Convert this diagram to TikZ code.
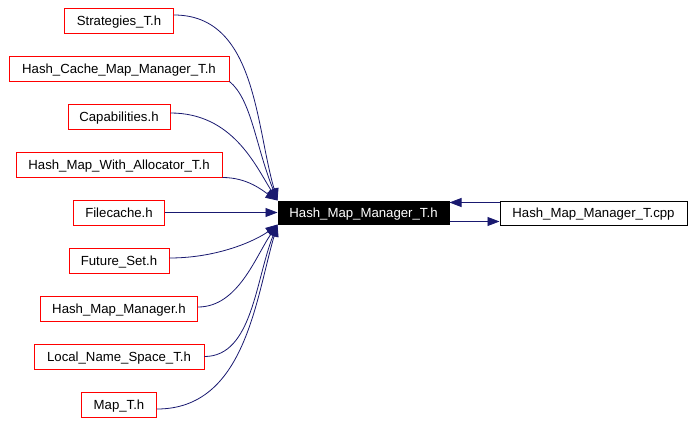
\documentclass[tikz,border=0pt]{standalone}
\usepackage{fontspec}
\setmainfont{Liberation Sans}
\usetikzlibrary{arrows.meta}
\definecolor{edgeblue}{HTML}{191970}
\tikzset{
>={Triangle[length=12pt,width=9pt]}, % filled arrow heads
header/.style={draw=red, line width=1pt, fill=white, minimum height=25pt, inner sep=0pt, text height=9.8pt, text depth=0.4pt, font=\fontsize{13.2}{15}\selectfont}, % included files
hubnode/.style={header, draw=black, fill=black, text=white}, % the file of the graph
dep/.style={->, draw=edgeblue, line width=0.8pt}, % include edges
}
\begin{document}
\begin{tikzpicture}[x=1pt, y=1pt]
\useasboundingbox (0,0) rectangle (695,-423);
% column of headers
\foreach \name/\txt/\w [count=\i from 0] in {
  strat/Strategies\_T.h/109,
  hcmm/Hash\_Cache\_Map\_Manager\_T.h/220,
  cap/Capabilities.h/102,
  hmwa/Hash\_Map\_With\_Allocator\_T.h/206,
  filecache/Filecache.h/91,
  future/Future\_Set.h/100,
  hmm/Hash\_Map\_Manager.h/157,
  lns/Local\_Name\_Space\_T.h/170,
  map/Map\_T.h/75}
  \node[header, minimum width=\w pt] (\name) at (119,{-20.5-48*\i}) {\txt};
\node[hubnode, minimum width=171pt, minimum height=23pt] (hub) at (363.5,-212.5) {Hash\_Map\_Manager\_T.h};
\node[header, draw=black, minimum width=187pt, minimum height=24pt] (cpp) at (593.5,-213) {Hash\_Map\_Manager\_T.cpp};
\draw[dep] ([yshift=5.5pt]strat.east) .. controls +(82,0) and +(-22,75) .. (hub.north west);
\draw[dep] (hcmm.south east) .. controls +(22,-18) and +(-22,55) .. (hub.north west);
\draw[dep] ([yshift=3.5pt]cap.east) .. controls +(62,0) and +(-22,35) .. (hub.north west);
\draw[dep] (hmwa.south east) .. controls +(25,0) and +(-15,10) .. (hub.north west);
\draw[dep] (filecache.east) -- (hub.west);
\draw[dep] ([yshift=2.5pt]future.east) .. controls +(50,0) and +(-20,-15) .. (hub.south west);
\draw[dep] ([yshift=1.5pt]hmm.east) .. controls +(40,0) and +(-22,-32) .. (hub.south west);
\draw[dep] (lns.east) .. controls +(48,0) and +(-22,-55) .. (hub.south west);
\draw[dep] ([yshift=-4.5pt]map.east) .. controls +(88,0) and +(-22,-75) .. (hub.south west);
% back and forth with the source
\coordinate (cppin) at ([yshift=10.5pt]cpp.west);
\coordinate (hubout) at ([yshift=-9pt]hub.east);
\draw[dep] (cppin) -- (cppin -| hub.east);
\draw[dep] (hubout) -- (hubout -| cpp.west);
\end{tikzpicture}
\end{document}
